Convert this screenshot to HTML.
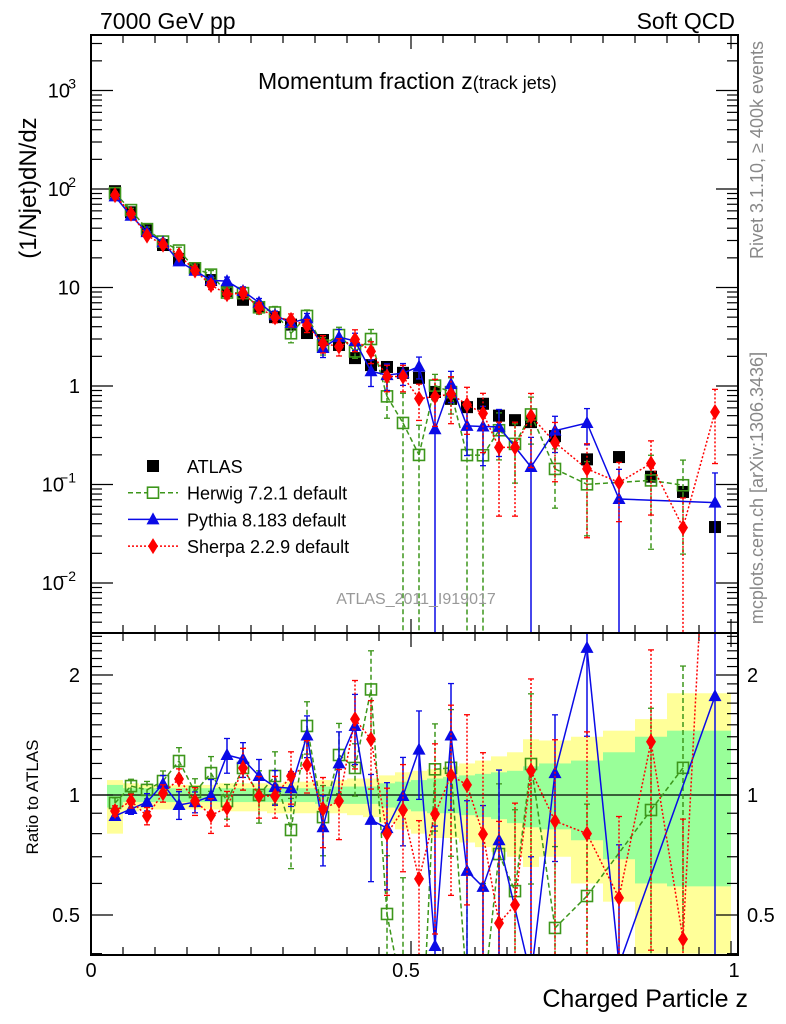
<!DOCTYPE html>
<html><head><meta charset="utf-8"><style>
html,body{margin:0;padding:0;background:#fff;width:786px;height:1024px;overflow:hidden;}
svg{display:block;font-family:"Liberation Sans",sans-serif;overflow:hidden;}
</style></head><body>
<svg id="chart" width="786" height="1024" viewBox="0 0 786 1024" xmlns="http://www.w3.org/2000/svg">
<defs>
<clipPath id="cm"><rect x="91" y="35" width="647" height="598"/></clipPath>
<clipPath id="cr"><rect x="91" y="633" width="647" height="322"/></clipPath>
</defs>
<g id="bands" clip-path="url(#cr)"></g>
<g id="grid"></g>
<g id="mainMarks" clip-path="url(#cm)"></g>
<g id="ratioMarks" clip-path="url(#cr)"></g>
<rect x="91" y="35" width="647" height="598" fill="none" stroke="#000" stroke-width="2"/>
<rect x="91" y="633" width="647" height="322" fill="none" stroke="#000" stroke-width="2"/>
<text x="100" y="29" font-size="23">7000 GeV pp</text>
<text x="735" y="29" font-size="23" text-anchor="end">Soft QCD</text>
<text x="258" y="89" font-size="23">Momentum fraction z<tspan font-size="18">(track jets)</tspan></text>
<text transform="translate(36,188) rotate(-90)" font-size="24" text-anchor="middle">(1/Njet)dN/dz</text>
<text transform="translate(38,797) rotate(-90)" font-size="17" text-anchor="middle">Ratio to ATLAS</text>
<text x="748" y="1007" font-size="25" text-anchor="end">Charged Particle z</text>
<text transform="translate(763,150) rotate(-90)" font-size="18" fill="#888" text-anchor="middle">Rivet 3.1.10, ≥ 400k events</text>
<text transform="translate(763,488) rotate(-90)" font-size="18" fill="#888" text-anchor="middle">mcplots.cern.ch [arXiv:1306.3436]</text>
<text x="416" y="604" font-size="16" fill="#999" text-anchor="middle">ATLAS_2011_I919017</text>
<g id="legend"></g>
</svg>
<script>
const zc=[0.0375,0.0625,0.0875,0.1125,0.1375,0.1625,0.1875,0.2125,0.2375,0.2625,0.2875,0.3125,0.3375,0.3625,0.3875,0.4125,0.4375,0.4625,0.4875,0.5125,0.5375,0.5625,0.5875,0.6125,0.6375,0.6625,0.6875,0.725,0.775,0.825,0.875,0.925,0.975];
const zlo=[0.025,0.05,0.075,0.1,0.125,0.15,0.175,0.2,0.225,0.25,0.275,0.3,0.325,0.35,0.375,0.4,0.425,0.45,0.475,0.5,0.525,0.55,0.575,0.6,0.625,0.65,0.675,0.7,0.75,0.8,0.85,0.9,0.95];
const zhi=[0.05,0.075,0.1,0.125,0.15,0.175,0.2,0.225,0.25,0.275,0.3,0.325,0.35,0.375,0.4,0.425,0.45,0.475,0.5,0.525,0.55,0.575,0.6,0.625,0.65,0.675,0.7,0.75,0.8,0.85,0.9,0.95,1.0];
const atlas=[95,58,38,27,19.5,15.4,11.9,9.2,7.5,6.3,5.0,4.2,3.45,2.93,2.61,1.92,1.63,1.56,1.36,1.21,0.87,0.74,0.61,0.66,0.50,0.45,0.43,0.31,0.18,0.19,0.12,0.084,0.037];
const pythiaRatio=[0.886,0.922,0.96,1.066,0.944,0.96,0.994,1.26,1.23,1.116,1.047,1.04,1.41,0.83,1.2,1.49,0.866,0.826,0.994,1.30,0.418,1.41,0.645,0.588,0.77,null,0.35,1.135,2.34,0.375,null,null,1.77];
const herwigRatio=[0.955,1.053,1.03,1.084,1.217,1.017,1.135,0.966,1.169,1.0,1.116,0.817,1.49,0.88,1.26,1.169,1.84,0.503,0.31,0.165,1.16,1.17,0.326,0.30,0.711,0.574,1.196,0.464,0.558,null,0.917,1.17,null];
const sherpaRatio=[0.912,0.966,0.886,1.01,1.097,0.966,0.89,0.928,1.169,0.994,0.994,1.116,1.19,0.922,0.966,1.55,1.38,0.80,0.917,0.616,0.896,1.12,1.06,0.798,0.477,0.53,1.15,0.86,0.80,0.552,1.36,0.435,14.7];
const pythiaErr=[0.02,0.03,0.05,0.05,0.08,0.06,0.1,0.1,0.1,0.1,0.1,0.1,0.12,0.2,0.2,0.2,0.3,0.3,0.25,0.25,1,0.35,0.5,0.6,0.5,0,1,0.4,0.4,1,0,0,1];
const herwigErr=[0.03,0.04,0.05,0.06,0.08,0.08,0.1,0.1,0.12,0.15,0.15,0.2,0.15,0.2,0.2,0.15,0.25,0.4,1,1,0.3,0.4,1,1,0.5,0.6,0.5,0.6,0.7,0,0.8,0.8,0];
const sherpaErr=[0.03,0.04,0.05,0.05,0.06,0.08,0.1,0.1,0.12,0.12,0.12,0.15,0.15,0.2,0.2,0.25,0.25,0.3,0.3,0.4,0.5,0.5,0.5,0.6,0.8,0.8,0.7,0.6,0.8,0.6,0.7,1,0.7];
const yUp=[.09,.07,.06,.06,.06,.06,.06,.07,.07,.07,.07,.08,.08,.09,.09,.10,.10,.12,.14,.15,.16,.18,.20,.22,.25,.28,.38,.37,.40,.45,.55,.80,.80];
const yDn=[.20,.09,.08,.08,.08,.08,.08,.09,.09,.09,.10,.10,.10,.10,.10,.11,.12,.15,.18,.20,.22,.22,.24,.26,.28,.30,.34,.30,.40,.46,.60,.60,.60];
const gUp=[.06,.04,.04,.04,.04,.04,.04,.04,.04,.04,.04,.04,.04,.05,.05,.05,.05,.07,.08,.09,.10,.11,.12,.13,.14,.15,.18,.20,.22,.28,.40,.45,.45];
const gDn=[.07,.04,.04,.04,.04,.04,.04,.04,.04,.04,.04,.04,.04,.05,.05,.05,.05,.07,.08,.09,.10,.10,.11,.12,.13,.15,.17,.18,.23,.31,.40,.41,.41];

const NS='http://www.w3.org/2000/svg';
const X=z=>91+640*z;
const YM=v=>386-98.5*Math.log10(v);
const YR=r=>795-120*Math.log2(r);
function mk(tag,attrs,parent){const e=document.createElementNS(NS,tag);for(const k in attrs)e.setAttribute(k,attrs[k]);parent.appendChild(e);return e;}
const gB=document.getElementById('bands'),gG=document.getElementById('grid'),gM=document.getElementById('mainMarks'),gR=document.getElementById('ratioMarks'),gL=document.getElementById('legend');

for(let i=0;i<zc.length;i++){
  let y1=Math.max(YR(1+yUp[i]),633),y2=Math.min(YR(Math.max(1-yDn[i],0.01)),955);
  let r=mk('rect',{x:X(zlo[i]),y:y1,width:X(zhi[i])-X(zlo[i]),height:y2-y1,fill:'#ffff99'},gB);
  
  
}
for(let i=0;i<zc.length;i++){
  let y1=Math.max(YR(1+gUp[i]),633),y2=Math.min(YR(1-gDn[i]),955);
  let r=mk('rect',{x:X(zlo[i]),y:y1,width:X(zhi[i])-X(zlo[i]),height:y2-y1,fill:'#99ff99'},gB);
  
  
}
let ln=mk('line',{x1:91,x2:738,y1:YR(1),y2:YR(1),stroke:'#000','stroke-width':1.3},gB);



for(let k=0;k<=20;k++){
  const z=k*0.05,x=X(z),L=(k%10==0)?14:8;
  [[35,1],[633,-1],[633,1],[955,-1]].forEach(([y,d])=>{mk('line',{x1:x,x2:x,y1:y,y2:y+d*L,stroke:'#000','stroke-width':1.2},gG);});
}
[['0',0,91],['0.5',0.5,406],['1',1,734]].forEach(([t,z,px])=>{let e=mk('text',{x:px,y:977,'font-size':20,'text-anchor':'middle'},gG);e.textContent=t;

});
for(let d=-3;d<=3;d++){for(let m=1;m<=9;m++){const v=m*Math.pow(10,d),y=YM(v);if(y<36||y>632)continue;const L=m==1?22:11;
mk('line',{x1:91,x2:91+L,y1:y,y2:y,stroke:'#000','stroke-width':1.2},gG);mk('line',{x1:738,x2:738-L,y1:y,y2:y,stroke:'#000','stroke-width':1.2},gG);}}
const ylabs=[[3,'10','3'],[2,'10','2'],[1,'10',''],[0,'1',''],[-1,'10','−1'],[-2,'10','−2']];
ylabs.forEach(([d,b,s])=>{let e=mk('text',{x:s?76-(s.length>1?12:6):80,y:YM(Math.pow(10,d))+7,'font-size':20,'text-anchor':'end'},gG);e.textContent=b;


if(s){let t=mk('text',{x:s.length>1?64+12:70+6,y:YM(Math.pow(10,d))-2,'font-size':14,'text-anchor':'end'},gG);t.textContent=s;

}});
for(let r=0.4;r<=2.6;r+=0.1){const y=YR(r);if(y<634||y>954)continue;const maj=Math.abs(r-0.5)<1e-6||Math.abs(r-1)<1e-6||Math.abs(r-2)<1e-6;const L=maj?22:11;
mk('line',{x1:91,x2:91+L,y1:y,y2:y,stroke:'#000','stroke-width':1.2},gG);mk('line',{x1:738,x2:738-L,y1:y,y2:y,stroke:'#000','stroke-width':1.2},gG);}
[['2',2],['1',1],['0.5',0.5]].forEach(([t,r])=>{let e=mk('text',{x:80,y:YR(r)+7,'font-size':20,'text-anchor':'end'},gG);e.textContent=t;


let f=mk('text',{x:747,y:YR(r)+7,'font-size':20},gG);f.textContent=t;

});

function marker(kind,x,y,color,g){
  let e;
  if(kind=='sq') e=mk('rect',{x:x-6,y:y-6,width:12,height:12,fill:'#000'},g);
  if(kind=='osq') e=mk('rect',{x:x-5.5,y:y-5.5,width:11,height:11,fill:'none',stroke:color,'stroke-width':1.6},g);
  if(kind=='tri') e=mk('polygon',{points:`${x},${y-7} ${x-6.5},${y+5} ${x+6.5},${y+5}`,fill:color},g);
  if(kind=='dia') e=mk('polygon',{points:`${x},${y-8} ${x-5},${y} ${x},${y+8} ${x+5},${y}`,fill:color},g);
  return e;
}
const series=[
 {name:'herwig',ratio:herwigRatio,err:herwigErr,color:'#3d961b',dash:'5,3',kind:'osq'},
 {name:'pythia',ratio:pythiaRatio,err:pythiaErr,color:'#0a0ae6',dash:'',kind:'tri'},
 {name:'sherpa',ratio:sherpaRatio,err:sherpaErr,color:'#ff0000',dash:'2,2',kind:'dia'}];

for(let i=0;i<zc.length;i++){let e=marker('sq',X(zc[i]),YM(atlas[i]),'#000',gM);

}

const clampY=(y,lo,hi)=>Math.min(Math.max(y,lo-20),hi+20);
// Clip a segment to horizontal band [lo,hi] keeping slope
function clipSeg(x1,y1,x2,y2,lo,hi){
  let t0=0,t1=1;const dy=y2-y1;
  if(dy===0){if(y1<lo||y1>hi)return null;}
  else{
    let ta=(lo-y1)/dy,tb=(hi-y1)/dy;if(ta>tb)[ta,tb]=[tb,ta];
    t0=Math.max(t0,ta);t1=Math.min(t1,tb);if(t0>t1)return null;
  }
  return [x1+(x2-x1)*t0,y1+dy*t0,x1+(x2-x1)*t1,y1+dy*t1];
}
series.forEach(s=>{
  [[gM,i=>atlas[i]*s.ratio[i],YM,35,633],[gR,i=>s.ratio[i],YR,633,955]].forEach(([g,val,Y,lo,hi])=>{
    let pts=[];
    for(let i=0;i<zc.length;i++){if(s.ratio[i]==null)continue;pts.push([X(zc[i]),Y(val(i))]);}
    let d='';
    for(let k=0;k+1<pts.length;k++){
      const c=clipSeg(pts[k][0],pts[k][1],pts[k+1][0],pts[k+1][1],lo,hi);
      if(c)d+=`M${c[0]},${c[1]}L${c[2]},${c[3]}`;
    }
    let pl=mk('path',{d:d,fill:'none',stroke:s.color,'stroke-width':1.5,'stroke-dasharray':s.dash},g);
    
    
    for(let i=0;i<zc.length;i++){
      if(s.ratio[i]==null)continue;
      const v=val(i),x=X(zc[i]),e=s.err[i],yc=Y(v);
      const yt=clampY(Y(v*(1+e)),lo,hi),yb=e>=1?hi:clampY(Y(v*(1-e)),lo,hi);
      let eb=mk('line',{x1:x,x2:x,y1:yt,y2:yb,stroke:s.color,'stroke-width':1.5,'stroke-dasharray':s.dash},g);
      
      
      mk('line',{x1:x-3,x2:x+3,y1:yt,y2:yt,stroke:s.color,'stroke-width':1.3},g);
      if(e<1)mk('line',{x1:x-3,x2:x+3,y1:yb,y2:yb,stroke:s.color,'stroke-width':1.3},g);
      if(yc<lo-10||yc>hi+10)continue;
      let m=marker(s.kind,x,yc,s.color,g);
      if(s.kind=='osq')m.setAttribute('fill','#fff'),m.setAttribute('fill-opacity','0');
      
      
    }
  });
});

const leg=[['ATLAS',null,'sq','#000',''],['Herwig 7.2.1 default',1,'osq','#3d961b','5,3'],['Pythia 8.183 default',1,'tri','#0a0ae6',''],['Sherpa 2.2.9 default',1,'dia','#ff0000','2,2']];
leg.forEach((l,k)=>{const y=466+k*26.7;
  let g=mk('g',{},gL);
  
  
  if(l[1])mk('line',{x1:128,x2:178,y1:y,y2:y,stroke:l[3],'stroke-width':1.5,'stroke-dasharray':l[4]},g);
  let m=marker(l[2],153,y,l[3],g);if(l[2]=='osq')m.setAttribute('fill','#fff');
  let t=mk('text',{x:187,y:y+7,'font-size':18},g);t.textContent=l[0];
});
</script>
</body></html>
